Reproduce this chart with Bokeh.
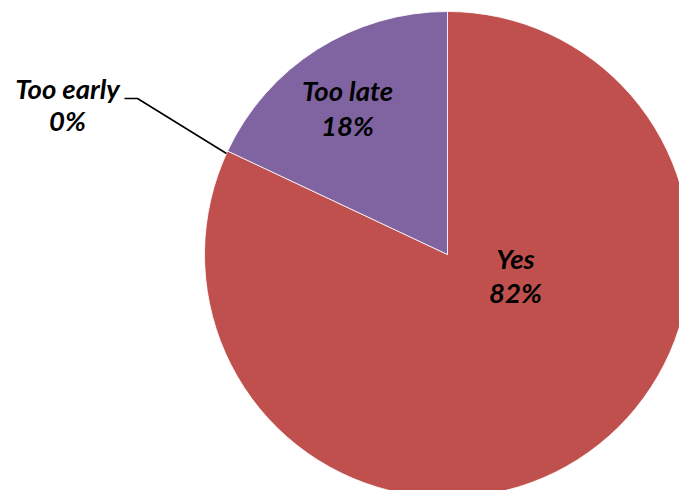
import math
from bokeh.plotting import figure
from bokeh.models import Range1d, ColumnDataSource
from bokeh.core.properties import value
from bokeh.embed import file_html
from bokeh.resources import INLINE

# ---- data ----
categories = ["Yes", "Too late", "Too early"]
shares = [82, 18, 0]
colors = ["#C0504D", "#8064A2", "#4F81BD"]

# ---- layout (pixel-like coordinates, y downwards negated) ----
W, H = 679, 490
cx, cy, r = 447, -254, 243

total = sum(shares)
starts, ends, cols = [], [], []
acc = 0.0
for s, c in zip(shares, colors):
    a_end = math.pi / 2 - 2 * math.pi * acc / total
    a_start = math.pi / 2 - 2 * math.pi * (acc + s) / total
    acc += s
    if s > 0:
        starts.append(a_start)
        ends.append(a_end)
        cols.append(c)

p = figure(width=W, height=H, output_backend="svg", toolbar_location=None,
           x_range=Range1d(0, W), y_range=Range1d(-H, 0),
           min_border=0, outline_line_color=None)
p.axis.visible = False
p.grid.visible = False
p.background_fill_color = "white"
p.border_fill_color = "white"

src = ColumnDataSource(dict(start=starts, end=ends, color=cols,
                            x=[cx] * len(cols), y=[cy] * len(cols)))
p.wedge(x="x", y="y", radius=r, start_angle="start", end_angle="end",
        fill_color="color", line_color="white", line_width=0.8, source=src)

# leader line for the 0% slice
lx = [226, 137, 124]
ly = [-153, -98, -98]
p.line(lx, ly, line_color="black", line_width=1.6)

label_x = [515, 347, 67]
name_y = [-258, -89.5, -88]
pct_y = [-292, -125, -120]
names = categories
pcts = [f"{s}%" for s in shares]
fs = "27.5px"
common = dict(text_align="center", text_baseline="middle",
              text_font=value("Lato"), text_font_size=fs,
              text_font_style="bold italic", text_color="black")
p.text(x=label_x, y=name_y, text=names, **common)
p.text(x=label_x, y=pct_y, text=pcts, **common)

open("out.html", "w").write(file_html(p, INLINE))
